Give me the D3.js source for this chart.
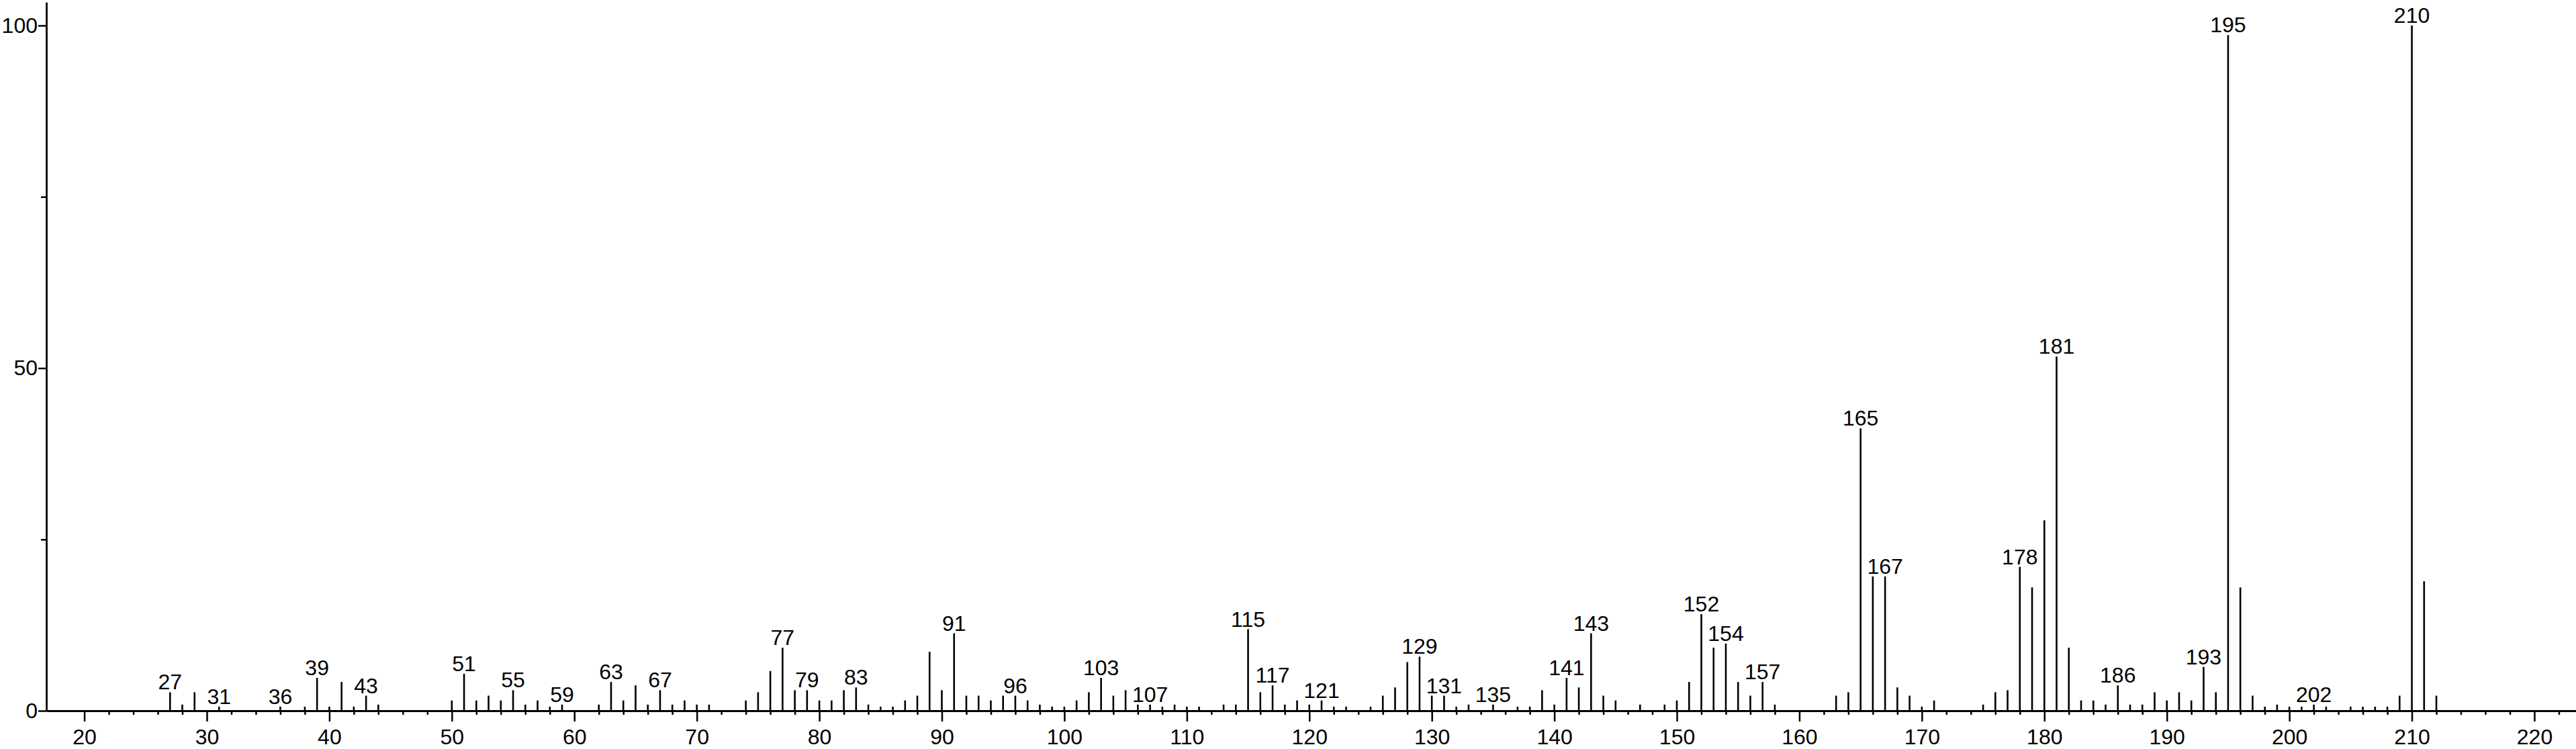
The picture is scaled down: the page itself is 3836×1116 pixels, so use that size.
<!DOCTYPE html>
<html>
<head>
<meta charset="utf-8">
<script src="https://cdn.jsdelivr.net/npm/d3@7"></script>
<style>
  body { margin: 0; background: #fff; }
  svg text { font-family: "Liberation Sans", Arial, sans-serif; fill: #000; }
</style>
</head>
<body>
<div id="chart"></div>
<script>
// m/z values and relative intensities
const mz = [27,28,29,31,36,38,39,40,41,42,43,44,
  50,51,52,53,54,55,56,57,58,59,62,63,64,65,66,67,68,69,70,71,
  74,75,76,77,78,79,80,81,82,83,84,85,86,87,88,89,90,91,92,93,94,95,96,97,98,99,
  100,101,102,103,104,105,106,107,108,109,110,111,113,114,115,116,117,118,119,
  120,121,122,123,125,126,127,128,129,130,131,132,133,135,137,138,139,
  140,141,142,143,144,145,147,149,150,151,152,153,154,155,156,157,158,
  163,164,165,166,167,168,169,170,171,175,176,177,178,179,
  180,181,182,183,184,185,186,187,188,189,190,191,192,193,194,195,196,197,198,199,
  200,201,202,203,205,206,207,208,209,210,211,212];

const intensity = [2.7,0.9,2.7,0.6,0.6,0.6,4.8,0.6,4.2,0.6,2.2,0.9,
  1.5,5.4,1.5,2.2,1.5,3.0,0.9,1.5,0.6,0.9,0.9,4.2,1.5,3.7,0.9,3.0,0.9,1.5,0.9,0.9,
  1.5,2.7,5.8,9.2,3.0,3.0,1.5,1.5,3.0,3.4,0.9,0.6,0.6,1.5,2.2,8.6,3.0,11.3,2.2,2.2,1.5,2.2,2.2,1.5,0.9,0.6,
  0.6,1.5,2.7,4.8,2.2,3.0,0.9,0.9,0.6,0.9,0.6,0.6,0.9,0.9,11.9,2.7,3.7,0.9,1.5,
  0.9,1.5,0.6,0.6,0.6,2.2,3.4,7.1,7.9,2.2,2.2,0.6,0.9,0.9,0.6,0.6,3.0,
  0.9,4.8,3.4,11.3,2.2,1.5,0.9,0.9,1.5,4.2,14.1,9.2,9.8,4.2,2.2,4.2,0.9,
  2.2,2.7,41.2,19.6,19.6,3.4,2.2,0.6,1.5,0.9,2.7,3.0,21.0,18.0,
  27.8,51.7,9.2,1.5,1.5,0.9,3.7,0.9,0.9,2.7,1.5,2.7,1.5,6.4,2.7,98.6,18.0,2.2,0.6,0.9,
  0.6,0.6,0.9,0.6,0.6,0.6,0.6,0.6,2.2,100,18.9,2.2];

// peaks that carry an m/z label
const labelled = [27,31,36,39,43,51,55,59,63,67,77,79,83,91,96,103,107,115,117,121,
  129,131,135,141,143,152,154,157,165,167,178,181,186,193,195,202,210];

const xMajor = [20,30,40,50,60,70,80,90,100,110,120,130,140,150,160,170,180,190,200,210,220];
const yMajor = [0,50,100];
const yMinor = [25,75];

const width = 3836, height = 1116;
const data = mz.map((m, i) => ({ mz: m, v: intensity[i] }));

const svg = d3.select("#chart").append("svg")
    .attr("width", width)
    .attr("height", height);

const x = d3.scaleLinear().domain([16.9, 223.4]).range([69, width]);
const yTop = 103.4;
const y = d3.scaleLinear().domain([0, yTop]).range([1059, 1059 - yTop * 10.21]);

const xMinor = d3.range(22, 224, 2).filter(d => d % 10 !== 0);

// x axis, minor ticks first then the major ones with labels
svg.append("g")
    .attr("transform", `translate(0,${y(0)})`)
    .call(d3.axisBottom(x).tickValues(xMinor).tickSize(6).tickSizeOuter(0).tickFormat(""))
    .call(g => g.select(".domain").remove())
    .call(g => g.selectAll("line").attr("stroke-width", 2.5));

svg.append("g")
    .attr("class", "x-axis")
    .attr("transform", `translate(0,${y(0)})`)
    .call(d3.axisBottom(x).tickValues(xMajor).tickSize(16).tickSizeOuter(0).tickPadding(11))
    .call(g => g.select(".domain").attr("stroke-width", 3.2))
    .call(g => g.selectAll("line").attr("stroke-width", 2.5))
    .call(g => g.selectAll("text").style("font-size", "32px").attr("fill", "#000"));

// y axis
svg.append("g")
    .attr("transform", `translate(${x.range()[0]},0)`)
    .call(d3.axisLeft(y).tickValues(yMinor).tickSize(8).tickSizeOuter(0).tickFormat(""))
    .call(g => g.select(".domain").remove())
    .call(g => g.selectAll("line").attr("stroke-width", 2.5));

svg.append("g")
    .attr("class", "y-axis")
    .attr("transform", `translate(${x.range()[0]},0)`)
    .call(d3.axisLeft(y).tickValues(yMajor).tickSize(12).tickSizeOuter(0).tickPadding(1))
    .call(g => g.select(".domain").attr("stroke-width", 2.8))
    .call(g => g.selectAll("line").attr("stroke-width", 2.5))
    .call(g => g.selectAll("text").style("font-size", "32px").attr("fill", "#000"));

// stick spectrum
svg.append("g").selectAll("line")
    .data(data)
    .join("line")
    .attr("x1", d => x(d.mz))
    .attr("x2", d => x(d.mz))
    .attr("y1", y(0))
    .attr("y2", d => y(d.v))
    .attr("stroke", "#000")
    .attr("stroke-width", 2.6);

// m/z labels over chosen peaks
svg.append("g").selectAll("text")
    .data(data.filter(d => labelled.includes(d.mz)))
    .join("text")
    .attr("x", d => x(d.mz))
    .attr("y", d => y(d.v) - 4)
    .attr("text-anchor", "middle")
    .style("font-size", "32px")
    .text(d => d.mz);
</script>
</body>
</html>
